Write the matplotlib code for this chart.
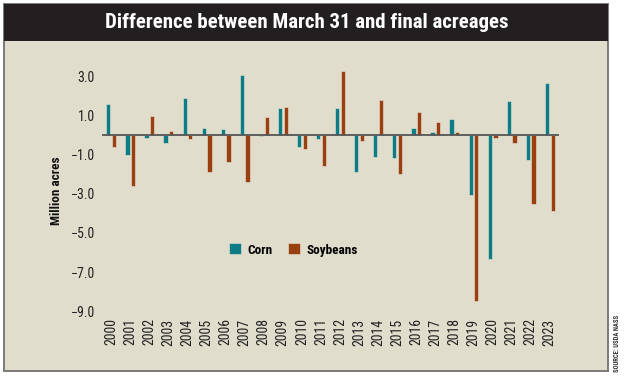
import matplotlib
matplotlib.use("Agg")
import matplotlib.pyplot as plt
from matplotlib.patches import Rectangle, Patch
import numpy as np

years = [str(y) for y in range(2000, 2024)]
corn = [1.6, -1.0, -0.15, -0.4, 1.9, 0.35, 0.3, 3.05, -0.05, 1.4, -0.6, -0.22,
        1.4, -1.9, -1.1, -1.2, 0.37, 0.17, 0.83, -3.05, -6.35, 1.75, -1.3, 2.65]
soy = [-0.6, -2.6, 0.95, 0.22, -0.22, -1.9, -1.4, -2.4, 0.92, 1.43, -0.7, -1.57,
       3.28, -0.3, 1.8, -1.97, 1.2, 0.68, 0.17, -8.5, -0.14, -0.39, -3.5, -3.9]
yticks = [3, 1, -1, -3, -5, -7, -9]
ytick_labels = ["3.0", "1.0", "\u22121.0", "\u22123.0", "\u22125.0", "\u22127.0", "\u22129.0"]

W, H = 624, 380
BG = "#E0DDCC"
TEAL = "#0E7C86"
RUST = "#9A3F10"
NARROW = ["Roboto Condensed", "Archivo Narrow", "Barlow Condensed",
          "Liberation Sans Narrow", "DejaVu Sans"]

fig = plt.figure(figsize=(W / 100, H / 100), dpi=100)
fig.patch.set_facecolor("white")

def px(x, y):
    return x / W, 1 - y / H

# frame and title band
fig.patches.append(Rectangle(px(3.5, 371), (608 - 3.5) / W, (371 - 4) / H,
                             transform=fig.transFigure, facecolor=BG, edgecolor="#7a7a7a",
                             linewidth=1.4, zorder=0))
fig.patches.append(Rectangle(px(3.5, 40.5), (608 - 3.5) / W, 36.5 / H,
                             transform=fig.transFigure, facecolor="#231F20", edgecolor="none",
                             zorder=1))
fig.text(*px(307, 23), "Difference between March 31 and final acreages", color="white",
         fontsize=15, fontweight="bold", family=NARROW, ha="center", va="center")

# axes
zero_y = 135.0
scale = 19.58
ymax, ymin = 3.5, -9.3
top = zero_y - ymax * scale
bottom = zero_y - ymin * scale
left, right = 101.7, 559.3
ax = fig.add_axes([left / W, 1 - bottom / H, (right - left) / W, (bottom - top) / H])
ax.set_zorder(5)
ax.set_facecolor("none")
x = np.arange(len(years))
bw = 0.22
off = 0.15
ax.bar(x - off, corn, bw, color=TEAL, edgecolor="#eae6d6", linewidth=0.4, label="Corn", zorder=2)
ax.bar(x + off, soy, bw, color=RUST, edgecolor="#eae6d6", linewidth=0.4, label="Soybeans", zorder=2)
ax.axhline(0, color="#555555", linewidth=1.3, zorder=3)
ax.set_xlim(-0.5, len(years) - 0.5)
ax.set_ylim(ymin, ymax)
for s in ax.spines.values():
    s.set_visible(False)
ax.set_yticks(yticks)
ax.set_yticklabels(ytick_labels, family=NARROW, fontsize=10, color="#222222")
ax.set_xticks(x)
ax.set_xticklabels(years, rotation=90, family=NARROW, fontsize=10, color="#222222")
ax.tick_params(axis="both", length=0)
ax.tick_params(axis="y", pad=5)
ax.tick_params(axis="x", pad=1)

fig.text(*px(57, 191), "Million acres", rotation=90, fontsize=9.5, fontweight="bold",
         family=NARROW, ha="center", va="center", color="#111111")

handles = [Patch(facecolor=TEAL, edgecolor="#eae6d6", linewidth=0.4),
           Patch(facecolor=RUST, edgecolor="#eae6d6", linewidth=0.4)]
leg = fig.legend(handles, ["Corn", "Soybeans"], loc="center left",
                 bbox_to_anchor=px(229, 250), ncol=2, frameon=False,
                 handlelength=0.9, handleheight=0.9, handletextpad=0.5, columnspacing=1.2,
                 borderpad=0, borderaxespad=0,
                 prop={"family": NARROW, "weight": "bold", "size": 9.5})
leg.set_zorder(6)

fig.text(*px(617, 372), "SOURCE: USDA NASS", rotation=90, fontsize=4.8, fontweight="bold",
         family=NARROW, ha="center", va="bottom", color="#333333")

fig.savefig("out.png", dpi=100, facecolor="white")
